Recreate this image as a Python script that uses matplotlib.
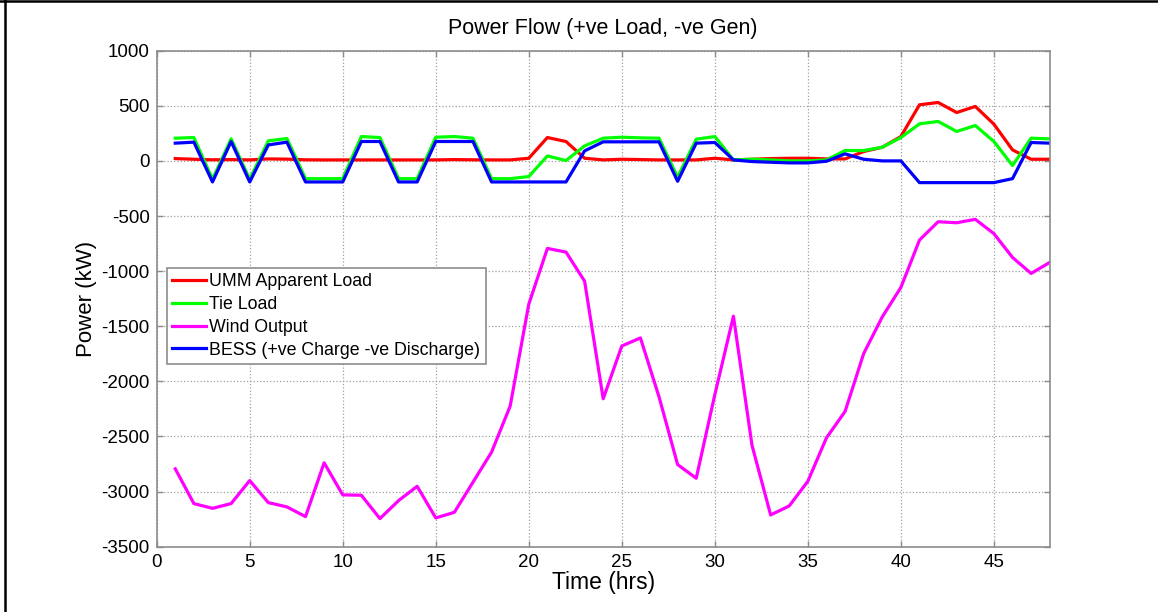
import matplotlib
matplotlib.use('Agg')
import matplotlib.pyplot as plt
from matplotlib.lines import Line2D
import numpy as np

plt.rcParams['font.family'] = ['Liberation Sans', 'DejaVu Sans']
plt.rcParams['axes.unicode_minus'] = False

# data
hours = list(range(1, 49))
umm_load = [21, 15, 10, 12, 9, 18, 16, 10, 9, 9, 9, 9, 9, 9, 9, 12,
            10, 9, 9, 24, 212, 176, 24, 9, 15, 12, 9, 9, 9, 24, 9, 15,
            21, 24, 24, 18, 18, 85, 124, 221, 509, 530, 439, 494, 333, 100, 15, 15]
tie_load = [206, 212, -167, 200, -167, 182, 203, -161, -161, -161, 221, 212, -161, -161, 215, 221,
            206, -161, -161, -142, 45, 3, 136, 206, 215, 209, 206, -148, 197, 221, 9, 15,
            9, 0, 0, 9, 94, 94, 124, 212, 336, 358, 267, 321, 176, -42, 206, 200]
wind_out = [-2794, -3109, -3152, -3109, -2900, -3100, -3139, -3227, -2739, -3030, -3033, -3245,
            -3082, -2952, -3239, -3188, -2915, -2642, -2224, -1300, -794, -827, -1091, -2158,
            -1679, -1606, -2140, -2755, -2879, -2120, -1409, -2582, -3212, -3130, -2906, -2512,
            -2273, -1748, -1415, -1148, -718, -552, -561, -530, -660, -876, -1021, -921]
bess = [161, 170, -191, 176, -191, 145, 170, -191, -191, -191, 176, 176, -191, -191, 176, 176,
        176, -191, -191, -191, -191, -191, 91, 173, 173, 173, 173, -185, 161, 167, 9, -6,
        -12, -18, -18, -3, 64, 15, 0, 0, -197, -197, -197, -197, -197, -161, 167, 161]

names = ['UMM Apparent Load', 'Tie Load', 'Wind Output', 'BESS (+ve Charge -ve Discharge)']
colors = [(1, 0, 0), (0, 1, 0), (1, 0, 1), (0, 0, 1)]

fig = plt.figure(figsize=(11.58, 6.12), dpi=100)
ax = fig.add_axes([0.1353, 0.1067, 0.7712, 0.8105])

for ys, name, c in zip([umm_load, tie_load, wind_out, bess], names, colors):
    ax.plot(hours, ys, color=c, lw=2.3, label=name)

# axis
ax.set_xlim(0, 48)
ax.set_ylim(-3500, 1000)
ax.set_xticks(np.arange(0, 46, 5))
ax.set_yticks(np.arange(-3500, 1001, 500))
ax.grid(True, linestyle=':', color='#a0a0a0', lw=0.9)
for s in ax.spines.values():
    s.set_color('#8c8c8c')
    s.set_linewidth(1.2)
ax.tick_params(direction='in', top=True, right=True, length=4, width=1,
               color='#8c8c8c', labelsize=13.5, labelcolor='black', pad=5)

ax.set_xlabel('Time (hrs)', fontsize=16.5, labelpad=0)
ax.set_ylabel('Power (kW)', fontsize=16, labelpad=3)
ax.set_title('Power Flow (+ve Load, -ve Gen)', fontsize=15.5, pad=12)

# legend
leg = ax.legend(loc='upper left', bbox_to_anchor=(0.0112, 0.5625), borderaxespad=0,
                fontsize=12.8, handlelength=1.9, handletextpad=0.2, labelspacing=0.33,
                borderpad=0.3, fancybox=False, edgecolor='#8c8c8c', framealpha=1)
leg.get_frame().set_linewidth(1.2)

# screenshot frame on left and top
fig.add_artist(Line2D([0.0046, 0.0046], [0, 1], color='black', lw=1.8, transform=fig.transFigure))
fig.add_artist(Line2D([0, 1], [0.9985, 0.9985], color='black', lw=1.8, transform=fig.transFigure))

fig.savefig('out.png', dpi=100)
